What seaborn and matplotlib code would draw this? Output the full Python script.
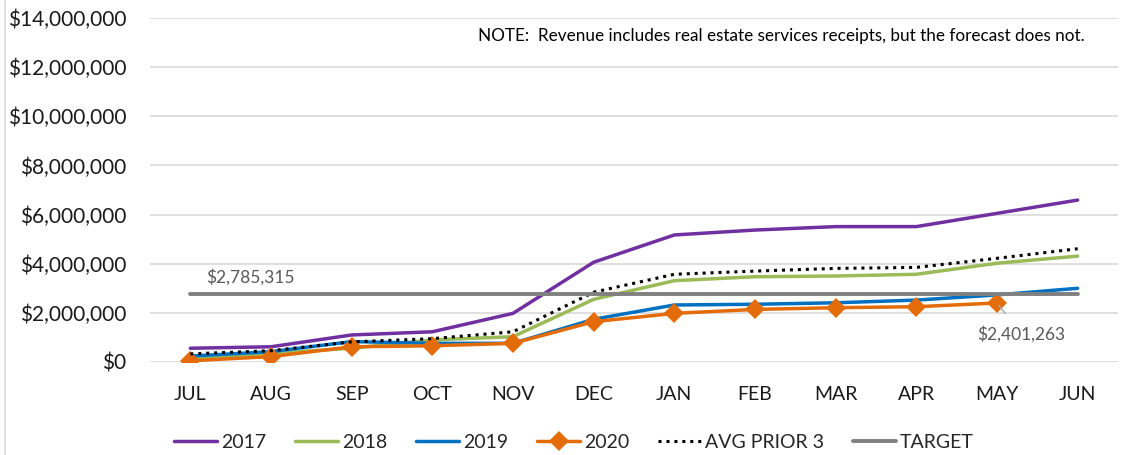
import seaborn as sns
import matplotlib.pyplot as plt
from matplotlib.ticker import FuncFormatter

# month labels
months = ["JUL", "AUG", "SEP", "OCT", "NOV", "DEC",
          "JAN", "FEB", "MAR", "APR", "MAY", "JUN"]

# revenue by fiscal year
rev_2017 = [560000, 620000, 1100000, 1230000, 1980000, 4060000,
            5170000, 5370000, 5510000, 5510000, 6050000, 6590000]
rev_2018 = [150000, 350000, 560000, 900000, 1030000, 2550000,
            3310000, 3470000, 3500000, 3570000, 4020000, 4310000]
rev_2019 = [240000, 420000, 830000, 760000, 760000, 1740000,
            2320000, 2350000, 2410000, 2520000, 2730000, 3000000]
rev_2020 = [50000, 220000, 620000, 660000, 760000, 1640000,
            1980000, 2140000, 2210000, 2250000, 2401263]
avg_prior3 = [330000, 460000, 820000, 950000, 1230000, 2840000,
              3570000, 3700000, 3810000, 3850000, 4220000, 4610000]
target = [2785315] * 12

# make a canvas
sns.set_style("white")
plt.rcParams["font.family"] = ["Lato", "DejaVu Sans"]
fig = plt.figure(figsize=(11.21, 4.55), dpi=100, facecolor="white")
ax = fig.add_axes([150 / 1121, 1 - 362 / 455, 968 / 1121, 344 / 455])

# series lines
sns.lineplot(x=months, y=rev_2017, color="#7030A0", lw=2.5, label="2017", ax=ax, sort=False)
sns.lineplot(x=months, y=rev_2018, color="#9BBB59", lw=2.5, label="2018", ax=ax, sort=False)
sns.lineplot(x=months, y=rev_2019, color="#0070C0", lw=2.5, label="2019", ax=ax, sort=False)
sns.lineplot(x=months[:11], y=rev_2020, color="#E36C09", lw=2.5, marker="D",
             markersize=10, markeredgewidth=0, label="2020", ax=ax, sort=False)
sns.lineplot(x=months, y=avg_prior3, color="black", lw=2.2, linestyle=(0, (1, 1.6)),
             label="AVG PRIOR 3", ax=ax, sort=False)
sns.lineplot(x=months, y=target, color="#808080", lw=2.8, label="TARGET", ax=ax, sort=False)

# axes style
ax.set_xlim(-0.5, 11.5)
ax.set_ylim(0, 14000000)
ax.set_yticks(range(0, 14000001, 2000000))
ax.yaxis.set_major_formatter(FuncFormatter(lambda v, p: f"${v:,.0f}"))
ax.grid(axis="y", color="#d9d9d9", lw=1.2)
ax.set_axisbelow(True)
for s in ax.spines.values():
    s.set_visible(False)
ax.tick_params(axis="y", labelsize=15, pad=17, length=0, labelcolor="#1a1a1a")
ax.tick_params(axis="x", labelsize=14, pad=17, length=0, labelcolor="#1a1a1a")
ax.set_xlabel("")
ax.set_ylabel("")

# labels
ax.text(0.2, 3450000, "$2,785,315", fontsize=12.5, color="#595959", va="center", ha="left")
ax.annotate("$2,401,263", xy=(10, 2401263), xytext=(10.3, 1150000),
            fontsize=12.5, color="#595959", ha="center", va="center",
            arrowprops=dict(arrowstyle="-", color="#a6a6a6", lw=1, shrinkA=8, shrinkB=2))
fig.text(1085 / 1121, 1 - 36 / 455,
         "NOTE:  Revenue includes real estate services receipts, but the forecast does not.",
         fontsize=12.3, ha="right", va="center", color="black")

# legend
ax.legend(loc="center", bbox_to_anchor=(574 / 1121, 1 - 442 / 455), bbox_transform=fig.transFigure,
          ncol=6, frameon=False, fontsize=14, handlelength=2.2, columnspacing=1.5, handletextpad=0.2)

# left border
fig.add_artist(plt.Line2D([5 / 1121, 5 / 1121], [0, 1], color="#d9d9d9", lw=1.2))

plt.savefig("out.png", dpi=100, facecolor="white")
plt.close("all")
